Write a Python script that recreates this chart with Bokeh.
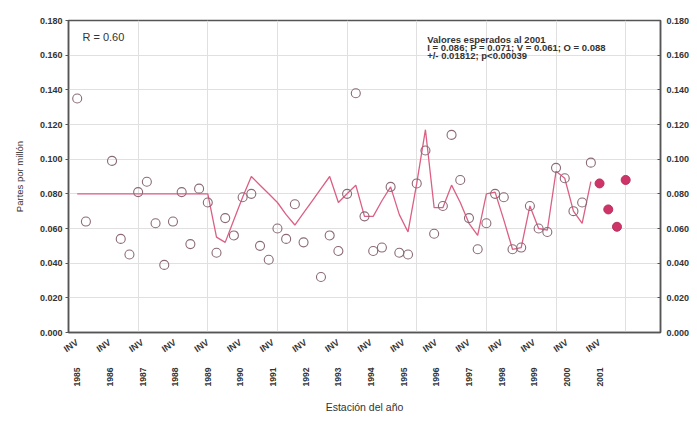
import math
from bokeh.plotting import figure
from bokeh.models import (Range1d, LinearAxis, FixedTicker, Label, PrintfTickFormatter)
from bokeh.embed import file_html
from bokeh.resources import INLINE

nan = float("nan")

# ---- data -------------------------------------------------------------
cases = list(range(1, 61))
observed = [0.135, 0.064, nan, nan, 0.099, 0.054, 0.045, 0.081, 0.087, 0.063,
            0.039, 0.064, 0.081, 0.051, 0.083, 0.075, 0.046, 0.066, 0.056, 0.078,
            0.080, 0.050, 0.042, 0.060, 0.054, 0.074, 0.052, nan, 0.032, 0.056,
            0.047, 0.080, 0.138, 0.067, 0.047, 0.049, 0.084, 0.046, 0.045, 0.086,
            0.105, 0.057, 0.073, 0.114, 0.088, 0.066, 0.048, 0.063, 0.080, 0.078,
            0.048, 0.049, 0.073, 0.060, 0.058, 0.095, 0.089, 0.070, 0.075, 0.098]
model = [0.080, 0.080, 0.080, 0.080, 0.080, 0.080, 0.080, 0.080, 0.080, 0.080,
         0.080, 0.080, 0.080, 0.080, 0.080, 0.080, 0.055, 0.052, 0.065, 0.078,
         0.090, 0.085, 0.080, 0.075, 0.068, 0.062, 0.069, 0.076, 0.083, 0.090,
         0.075, 0.080, 0.085, 0.067, 0.067, 0.076, 0.084, 0.068, 0.058, 0.086,
         0.117, 0.072, 0.072, 0.085, 0.075, 0.063, 0.056, 0.080, 0.081, 0.065,
         0.048, 0.049, 0.073, 0.060, 0.059, 0.093, 0.089, 0.070, 0.063, 0.087]
forecast_cases = [61, 62, 63, 64]
forecast = [0.086, 0.071, 0.061, 0.088]

season_labels = ["INV"] * 17
year_labels = [str(y) for y in range(1985, 2002)]
y_ticks = [0.0, 0.02, 0.04, 0.06, 0.08, 0.10, 0.12, 0.14, 0.16, 0.18]
grid_cases = [8, 16, 24, 32, 40, 48, 56, 64]

FONT = "Liberation Sans"
TXT = "#333333"
AX = "#555555"

p = figure(width=697, height=424, output_backend="svg", toolbar_location=None,
           x_range=Range1d(0, 68), y_range=Range1d(0, 0.18),
           min_border_left=68, min_border_right=37, min_border_top=20,
           min_border_bottom=92, background_fill_color="white",
           border_fill_color="white")
p.outline_line_color = AX
p.outline_line_width = 1.5

# grids
p.ygrid.ticker = FixedTicker(ticks=y_ticks)
p.ygrid.grid_line_color = "#e0e0e0"
p.xgrid.ticker = FixedTicker(ticks=grid_cases)
p.xgrid.grid_line_color = "#e0e0e0"

# left y axis
ya = p.yaxis[0]
ya.ticker = FixedTicker(ticks=y_ticks)
ya.formatter = PrintfTickFormatter(format="%.3f")
ya.axis_label = "Partes por millón"
ya.major_label_text_font = FONT
ya.major_label_text_font_size = "9px"
ya.major_label_text_color = TXT
ya.major_label_text_font_style = "bold"
ya.axis_line_color = AX
ya.axis_line_width = 1.5
ya.major_tick_in = 0
ya.major_tick_out = 3
ya.major_tick_line_color = AX
ya.minor_tick_line_color = None
ya.major_label_standoff = 3
ya.axis_label_text_font = FONT
ya.axis_label_text_font_size = "9.5px"
ya.axis_label_text_font_style = "normal"
ya.axis_label_text_color = TXT
ya.axis_label_standoff = 12

# right y axis
ra = LinearAxis(ticker=FixedTicker(ticks=y_ticks),
                formatter=PrintfTickFormatter(format="%.3f"))
ra.major_label_text_font = FONT
ra.major_label_text_font_size = "9px"
ra.major_label_text_font_style = "bold"
ra.major_label_text_color = TXT
ra.axis_line_color = AX
ra.axis_line_width = 1.5
ra.major_tick_in = 3
ra.major_tick_out = 0
ra.major_tick_line_color = AX
ra.minor_tick_line_color = None
ra.major_label_standoff = 6
p.add_layout(ra, "right")

# bottom axes: season row and year row
label_pos = [1 + 3.75 * k for k in range(len(year_labels))]
xa = p.xaxis[0]
xa.ticker = FixedTicker(ticks=label_pos)
xa.major_label_overrides = {pos: s for pos, s in zip(label_pos, season_labels)}
xa.major_label_orientation = 0.6
xa.major_label_text_font = FONT
xa.major_label_text_font_size = "9px"
xa.major_label_text_font_style = "bold"
xa.major_label_text_color = TXT
xa.axis_line_color = AX
xa.axis_line_width = 1.5
xa.major_tick_in = 0
xa.major_tick_out = 0
xa.minor_tick_line_color = None
xa.major_label_standoff = 9

xb = LinearAxis(ticker=FixedTicker(ticks=label_pos))
xb.major_label_overrides = {pos: s for pos, s in zip(label_pos, year_labels)}
xb.major_label_orientation = math.pi / 2
xb.major_label_text_font = FONT
xb.major_label_text_font_size = "8.5px"
xb.major_label_text_font_style = "bold"
xb.major_label_text_color = TXT
xb.axis_line_color = None
xb.major_tick_line_color = None
xb.minor_tick_line_color = None
xb.major_label_standoff = 0
xb.axis_label = "Estación del año"
xb.axis_label_text_font = FONT
xb.axis_label_text_font_size = "10.5px"
xb.axis_label_text_font_style = "normal"
xb.axis_label_text_color = TXT
xb.axis_label_standoff = 12
p.add_layout(xb, "below")

# marks
p.line(cases, model, line_color="#dc5f84", line_width=1.3)
p.scatter(cases, observed, marker="circle", size=9, fill_color=None,
          line_color="#8a6a76", line_width=1.1)
p.scatter(forecast_cases, forecast, marker="circle", size=9,
          fill_color="#cf3468", line_color="#b8305e", line_width=1)

# texts
p.add_layout(Label(x=1.6, y=0.1705, text="R = 0.60", text_font=FONT,
                   text_font_size="11px", text_color=TXT, text_baseline="middle"))
ann = ["Valores esperados al 2001",
       "I = 0.086; P = 0.071; V = 0.061; O = 0.088",
       "+/- 0.01812; p<0.00039"]
for k, t in enumerate(ann):
    p.add_layout(Label(x=41.2, y=0.1690 - k * 0.0045, text=t, text_font=FONT,
                       text_font_size="9.5px", text_font_style="bold",
                       text_color=TXT, text_baseline="middle"))

open("out.html", "w").write(file_html(p, INLINE))
